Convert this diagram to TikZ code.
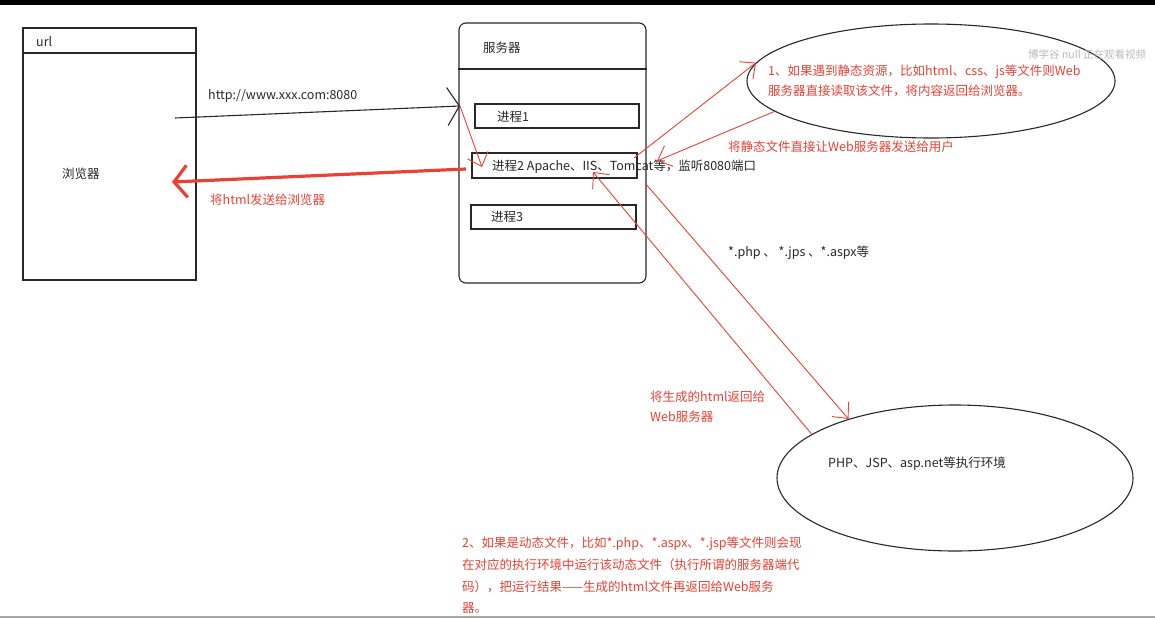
\documentclass[tikz,border=0pt]{standalone}
\usepackage{fontspec}
\setmainfont{Noto Sans CJK SC}
\usetikzlibrary{arrows.meta,shapes.geometric}
\definecolor{penred}{RGB}{232,66,52}
\definecolor{ink}{RGB}{40,40,40}

\begin{document}
\begin{tikzpicture}[x=1pt, y=-1pt,
    every node/.style={font=\fontsize{12.5}{20}\selectfont, text=ink, inner sep=0pt},
    box/.style={draw=ink, line width=1.1pt},
    note/.style={text=penred, anchor=west, align=left},
    plain/.style={anchor=west},
    request/.style={draw=ink, line width=1.1pt, -{Straight Barb[length=12pt,width=38pt,line width=1.1pt]}},
    reply/.style={draw=penred, line width=3.2pt, -{Straight Barb[length=13pt,width=32pt,line width=3.2pt]}},
    flow/.style={draw=penred, line width=0.9pt, -{Straight Barb[length=12pt,width=22pt,line width=0.9pt]}}]
    \useasboundingbox (0,0) rectangle (1155,618);
    \fill[white] (0,0) rectangle (1155,618);
    \fill[black] (0,0) rectangle (1155,5);
    \draw[gray!70, line width=1.5pt] (0,617) -- (1155,617);

    % Browser
    \node[box, minimum width=173pt, minimum height=252pt] (browser) at (109.5,154) {};
    \draw[box] (browser.west |- 0,53) -- (browser.east |- 0,53);
    \node[plain] (url) at (36,42) {url};
    \node[plain] (blabel) at (62,174) {浏览器};

    % Server with its processes
    \node[box, rounded corners=7pt, minimum width=187pt, minimum height=260pt] (server) at (552.5,153) {};
    \draw[box] (server.west |- 0,69) -- (server.east |- 0,69);
    \node[plain] (slabel) at (483,48) {服务器};
    \node[box, minimum width=164pt, minimum height=24pt] (p1) at (557,116) {};
    \node[box, minimum width=165pt, minimum height=25pt] (p2) at (554.5,165.5) {};
    \node[box, minimum width=165pt, minimum height=24pt] (p3) at (553.5,217) {};
    \node[plain] (p1label) at (497,117) {进程1};
    \node[plain] (p2label) at (492,167) {进程2 Apache、IIS、Tomcat等，监听8080端口};
    \node[plain] (p3label) at (491,217) {进程3};

    % Static files
    \node[box, ellipse, minimum width=368pt, minimum height=114pt] (static) at (931,81) {};
    \node[note, anchor=north west] (staticnote) at (768,65) {1、如果遇到静态资源，比如html、css、js等文件则Web\\服务器直接读取该文件，将内容返回给浏览器。};
    \node[plain, text=gray!55, font=\fontsize{10.5}{12}\selectfont] (mark) at (1028,54) {博学谷 null 正在观看视频};

    % Dynamic files
    \node[box, ellipse, minimum width=356pt, minimum height=146pt] (dyn) at (955,478) {};
    \node[plain] (dynlabel) at (828,464) {PHP、JSP、asp.net等执行环境};
    \node[note, anchor=north west, font=\fontsize{12.5}{21.7}\selectfont] (dynnote) at (462,537) {2、如果是动态文件，比如*.php、*.aspx、*.jsp等文件则会现\\在对应的执行环境中运行该动态文件（执行所谓的服务器端代\\码），把运行结果——生成的html文件再返回给Web服务\\器。};

    % Free ends of the hand-drawn connectors
    \coordinate (reqstart) at (175,118);
    \coordinate (reqend) at (460,106);
    \coordinate (replystart) at (466,169);
    \coordinate (replyend) at (172,182);
    \coordinate (inend) at (482,167);
    \coordinate (toStatic) at (634,158);
    \coordinate (fromStatic) at (657,161);
    \coordinate (toDyn) at (645,183);
    \coordinate (fromDyn) at (593,172);

    % Request and reply
    \draw[request] (reqstart) -- (reqend);
    \node[plain] (urltext) at (208,96) {http://www.xxx.com:8080};
    \draw[reply] (replystart) -- (replyend);
    \node[note] (replytext) at (210,200) {将html发送给浏览器};
    \draw[flow] (reqend) -- (inend);

    % Static branch
    \draw[flow] (toStatic) -- (static.174);
    \draw[flow] (static.191) -- (fromStatic);
    \node[note] (statictext) at (728,147) {将静态文件直接让Web服务器发送给用户};

    % Dynamic branch
    \draw[flow] (toDyn) -- (dyn.151);
    \node[plain] (exttext) at (728,253) {*.php 、 *.jps 、*.aspx等};
    \draw[flow] (dyn.163) -- (fromDyn);
    \node[note, anchor=north west] (backtext) at (650,391) {将生成的html返回给\\Web服务器};
  \end{tikzpicture}
\end{document}
